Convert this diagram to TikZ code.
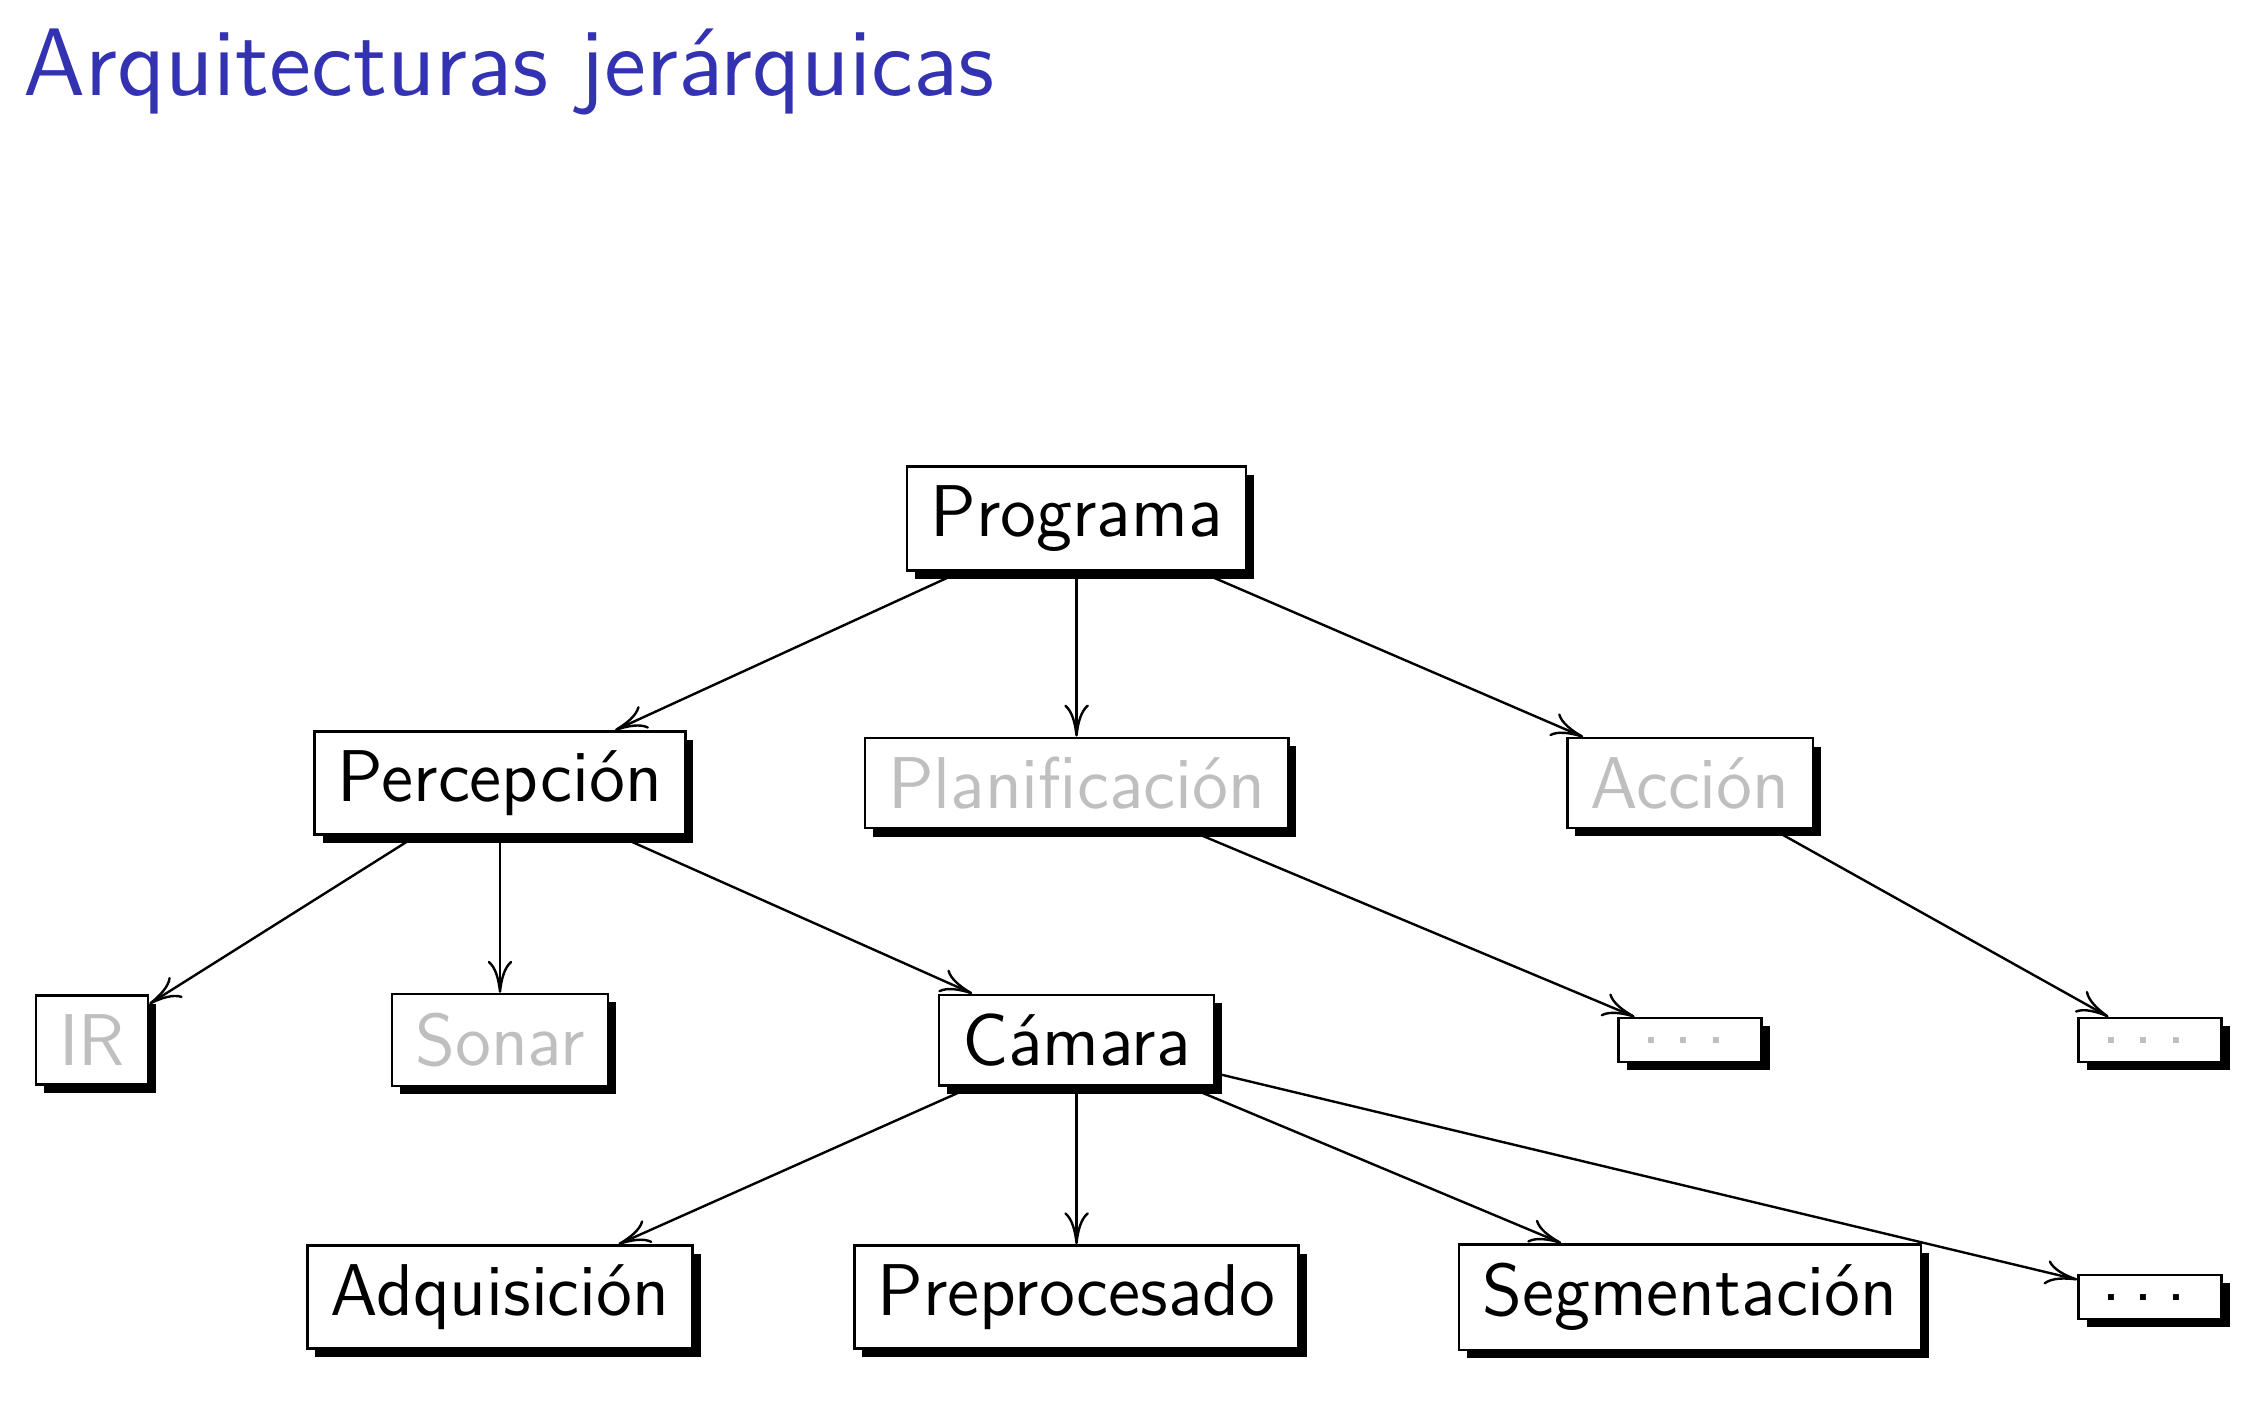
\documentclass[tikz,border=0pt]{standalone}
\usetikzlibrary{shadows,arrows.meta}
\definecolor{titleblue}{rgb}{0.2,0.2,0.7}
\definecolor{dimtext}{gray}{0.75}
\tikzset{
  box/.style={draw, line width=0.38pt, fill=white,
    font=\sffamily\fontsize{11}{13}\selectfont,
    inner xsep=3.5pt, inner ysep=2.85pt,
    drop shadow={shadow xshift=1.2pt, shadow yshift=-1.25pt, opacity=1, fill=black}},
  dim/.style={text=dimtext},
  link/.style={line width=0.36pt, -{To[length=4.8pt,width=3.7pt]}},
  titletext/.style={font=\sffamily\fontsize{14.4}{17}\selectfont, text=titleblue, inner sep=0pt, anchor=base west}
}
\newcommand{\mydots}{.\kern.166em.\kern.166em.\kern.166em}
\begin{document}
\begin{tikzpicture}[x=0.15pt, y=-0.15pt]
\useasboundingbox (0,0) rectangle (2256,1402);
\node[titletext] (title) at (22,95) {Arquitecturas jerárquicas};

\node[box] (prog) at (1076.5,518.5) {Programa};
\node[box] (perc) at (500,783) {Percepción};
\node[box,dim] (plan) at (1076.5,783) {Planificación};
\node[box,dim] (acc) at (1690,783) {Acción};
\node[box,dim] (ir) at (92,1040) {IR};
\node[box,dim] (sonar) at (500,1040) {Sonar};
\node[box] (cam) at (1076.5,1040) {Cámara};
\node[box,dim] (d1) at (1690,1040) {\mydots};
\node[box,dim] (d2) at (2150,1040) {\mydots};
\node[box] (adq) at (500,1297) {Adquisición};
\node[box] (pre) at (1076.5,1297) {Preprocesado};
\node[box] (seg) at (1690,1297) {Segmentación};
\node[box] (d3) at (2150,1297) {\mydots};

\draw[link] (prog) -- (perc);
\draw[link] (prog) -- (plan);
\draw[link] (prog) -- (acc);
\draw[link] (perc) -- (ir);
\draw[link] (perc) -- (sonar);
\draw[link] (perc) -- (cam);
\draw[link] (plan) -- (d1);
\draw[link] (acc) -- (d2);
\draw[link] (cam) -- (adq);
\draw[link] (cam) -- (pre);
\draw[link] (cam) -- (seg);
\draw[link] (cam) -- (d3);
\end{tikzpicture}
\end{document}
